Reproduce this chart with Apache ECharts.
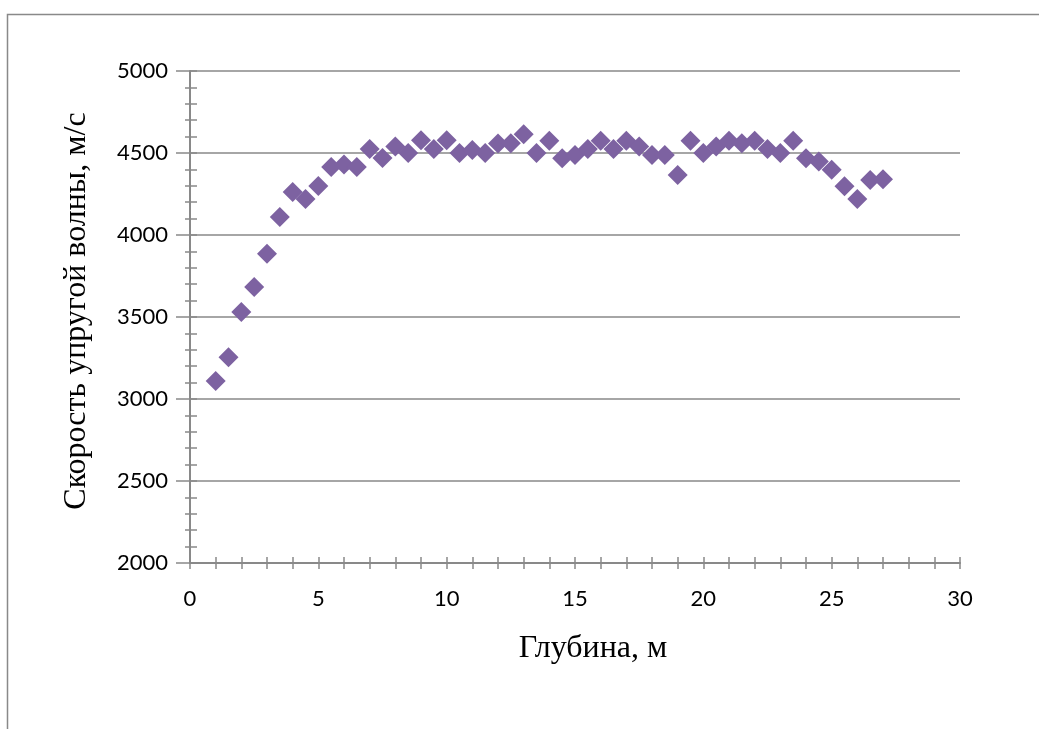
<!DOCTYPE html>
<html>
<head>
<meta charset="utf-8">
<script src="https://cdn.jsdelivr.net/npm/echarts@6/dist/echarts.min.js"></script>
<style>
  html, body { margin: 0; padding: 0; background: #ffffff; }
  #chart { width: 1039px; height: 729px; }
</style>
</head>
<body>
<div id="chart"></div>
<script>
// Depth of each measurement, m
const depth = [
  1, 1.5, 2, 2.5, 3, 3.5, 4, 4.5, 5, 5.5, 6, 6.5, 7, 7.5, 8, 8.5, 9, 9.5,
  10, 10.5, 11, 11.5, 12, 12.5, 13, 13.5, 14, 14.5, 15, 15.5, 16, 16.5, 17, 17.5,
  18, 18.5, 19, 19.5, 20, 20.5, 21, 21.5, 22, 22.5, 23, 23.5, 24, 24.5, 25, 25.5,
  26, 26.5, 27
];
// Elastic wave velocity, m/s
const velocity = [
  3110, 3255, 3530, 3683, 3886, 4110, 4262, 4220, 4299, 4415, 4430, 4415, 4524, 4470, 4540, 4500, 4578, 4524,
  4578, 4500, 4518, 4500, 4558, 4560, 4615, 4500, 4575, 4468, 4488, 4525, 4575, 4525, 4575, 4540,
  4488, 4488, 4366, 4575, 4500, 4540, 4575, 4560, 4575, 4525, 4500, 4575, 4468, 4448, 4398, 4298,
  4220, 4335, 4340
];
// Axis ranges and tick steps
const xRange = [0, 30];
const xStep = 5;
const yRange = [2000, 5000];
const yStep = 500;

const xTitle = 'Глубина, м';
const yTitle = 'Скорость упругой волны, м/с';

const points = depth.map((d, i) => [d, velocity[i]]);

const gray = '#898989';
const labelFont = { fontFamily: 'Lato', fontSize: 22, color: '#000000' };
const titleFont = 'normal 32px "Liberation Serif", "Times New Roman", serif';

const chart = echarts.init(document.getElementById('chart'), null, { renderer: 'canvas' });

chart.setOption({
  animation: false,
  backgroundColor: '#ffffff',
  grid: { left: 190, right: 79, top: 71, bottom: 166 },
  graphic: [{
    type: 'rect',
    left: 5, top: 12,
    shape: { width: 1200, height: 900 },
    style: { fill: 'none', stroke: gray, lineWidth: 1.5 },
    silent: true
  }, {
    type: 'text',
    x: 593, y: 649,
    style: { text: xTitle, font: titleFont, fill: '#000000', textAlign: 'center', textVerticalAlign: 'middle' },
    silent: true
  }, {
    type: 'text',
    x: 77, y: 311,
    rotation: Math.PI / 2,
    style: { text: yTitle, font: titleFont, fill: '#000000', textAlign: 'center', textVerticalAlign: 'middle' },
    silent: true
  }],
  xAxis: [{
    type: 'value',
    min: xRange[0], max: xRange[1], interval: xStep,
    axisLine: { show: true, onZero: false, lineStyle: { color: gray, width: 2 } },
    axisTick: { show: true, length: 6, lineStyle: { color: gray, width: 1.5 } },
    minorTick: { show: true, splitNumber: 5, length: 6, lineStyle: { color: gray, width: 1.5 } },
    splitLine: { show: false },
    axisLabel: Object.assign({ margin: 25, formatter: v => String(v) }, labelFont)
  }, {
    // inner half of the crossing ticks
    type: 'value', position: 'bottom',
    min: xRange[0], max: xRange[1], interval: 1,
    axisLine: { show: false },
    axisTick: { show: true, inside: true, length: 6, lineStyle: { color: gray, width: 1.5 } },
    axisLabel: { show: false },
    splitLine: { show: false }
  }],
  yAxis: [{
    type: 'value',
    min: yRange[0], max: yRange[1], interval: yStep,
    axisLine: { show: true, onZero: false, lineStyle: { color: gray, width: 2 } },
    axisTick: { show: true, length: 14, lineStyle: { color: gray, width: 1.5 } },
    minorTick: { show: true, splitNumber: 5, length: 5, lineStyle: { color: gray, width: 1.5 } },
    splitLine: { show: true, lineStyle: { color: gray, width: 1.5 } },
    axisLabel: Object.assign({ margin: 22, formatter: v => String(v) }, labelFont)
  }, {
    type: 'value', position: 'left',
    min: yRange[0], max: yRange[1], interval: 100,
    axisLine: { show: false },
    axisTick: { show: true, inside: true, length: 7, lineStyle: { color: gray, width: 1.5 } },
    axisLabel: { show: false },
    splitLine: { show: false }
  }],
  series: [{
    type: 'scatter',
    xAxisIndex: 0, yAxisIndex: 0,
    data: points,
    symbol: 'diamond',
    symbolSize: 20,
    itemStyle: { color: '#7d62a1', opacity: 1 }
  }]
});
</script>
</body>
</html>
